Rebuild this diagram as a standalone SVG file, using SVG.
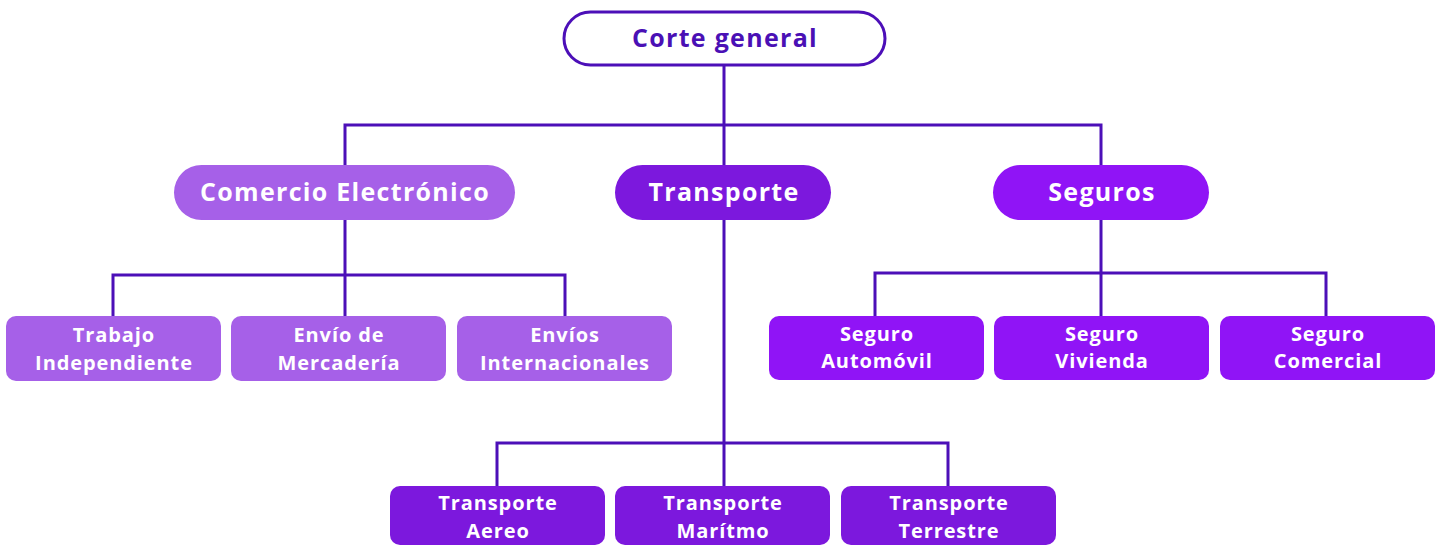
<svg xmlns="http://www.w3.org/2000/svg" width="1440" height="546" viewBox="0 0 1440 546">
<style>
.ln{fill:none;stroke:#4C0FB8;stroke-width:3}
.t{font-family:"Open Sans","Liberation Sans",sans-serif;font-weight:700;fill:#fff;text-anchor:middle}
.h{font-size:25px;letter-spacing:1.3px}
.s{font-size:20px;letter-spacing:0.9px}
.ce{fill:#A660E8}
.tr{fill:#7C18DD}
.sg{fill:#9014F6}
</style>
<rect width="1440" height="546" fill="#fff"/>
<g id="connectors" class="ln">
<path d="M724 65V486"/>
<path d="M345 165V125H1101V165"/>
<path d="M345 220V316M113 316V275H565V316"/>
<path d="M1101 220V316M875 316V273H1326V316"/>
<path d="M497 486V443H948V486"/>
</g>
<g id="root">
<rect x="564" y="12" width="321" height="53" rx="26.5" fill="#fff" stroke="#4C0FB8" stroke-width="3"/>
<text class="t h" x="725" y="47" style="fill:#4A10B5">Corte general</text>
</g>
<g id="comercio">
<rect class="ce" x="174" y="165" width="341" height="55" rx="27.5"/>
<text class="t h" x="345" y="201">Comercio Electrónico</text>
</g>
<g id="transporte">
<rect class="tr" x="615" y="165" width="216" height="55" rx="27.5"/>
<text class="t h" x="724" y="201">Transporte</text>
</g>
<g id="seguros">
<rect class="sg" x="993" y="165" width="216" height="55" rx="27.5"/>
<text class="t h" x="1102" y="201">Seguros</text>
</g>
<g id="trabajo">
<rect class="ce" x="6" y="316" width="215" height="65" rx="10"/>
<text class="t s" x="114" y="342">Trabajo</text>
<text class="t s" x="114" y="370">Independiente</text>
</g>
<g id="envio">
<rect class="ce" x="231" y="316" width="215" height="65" rx="10"/>
<text class="t s" x="339" y="342">Envío de</text>
<text class="t s" x="339" y="370">Mercadería</text>
</g>
<g id="envios">
<rect class="ce" x="457" y="316" width="215" height="65" rx="10"/>
<text class="t s" x="565" y="342">Envíos</text>
<text class="t s" x="565" y="370">Internacionales</text>
</g>
<g id="automovil">
<rect class="sg" x="769" y="316" width="215" height="64" rx="10"/>
<text class="t s" x="877" y="341">Seguro</text>
<text class="t s" x="877" y="368">Automóvil</text>
</g>
<g id="vivienda">
<rect class="sg" x="994" y="316" width="215" height="64" rx="10"/>
<text class="t s" x="1102" y="341">Seguro</text>
<text class="t s" x="1102" y="368">Vivienda</text>
</g>
<g id="comercial">
<rect class="sg" x="1220" y="316" width="215" height="64" rx="10"/>
<text class="t s" x="1328" y="341">Seguro</text>
<text class="t s" x="1328" y="368">Comercial</text>
</g>
<g id="aereo">
<rect class="tr" x="390" y="486" width="215" height="59" rx="10"/>
<text class="t s" x="498" y="510">Transporte</text>
<text class="t s" x="498" y="538">Aereo</text>
</g>
<g id="maritimo">
<rect class="tr" x="615" y="486" width="215" height="59" rx="10"/>
<text class="t s" x="723" y="510">Transporte</text>
<text class="t s" x="723" y="538">Marítmo</text>
</g>
<g id="terrestre">
<rect class="tr" x="841" y="486" width="215" height="59" rx="10"/>
<text class="t s" x="949" y="510">Transporte</text>
<text class="t s" x="949" y="538">Terrestre</text>
</g>
</svg>
